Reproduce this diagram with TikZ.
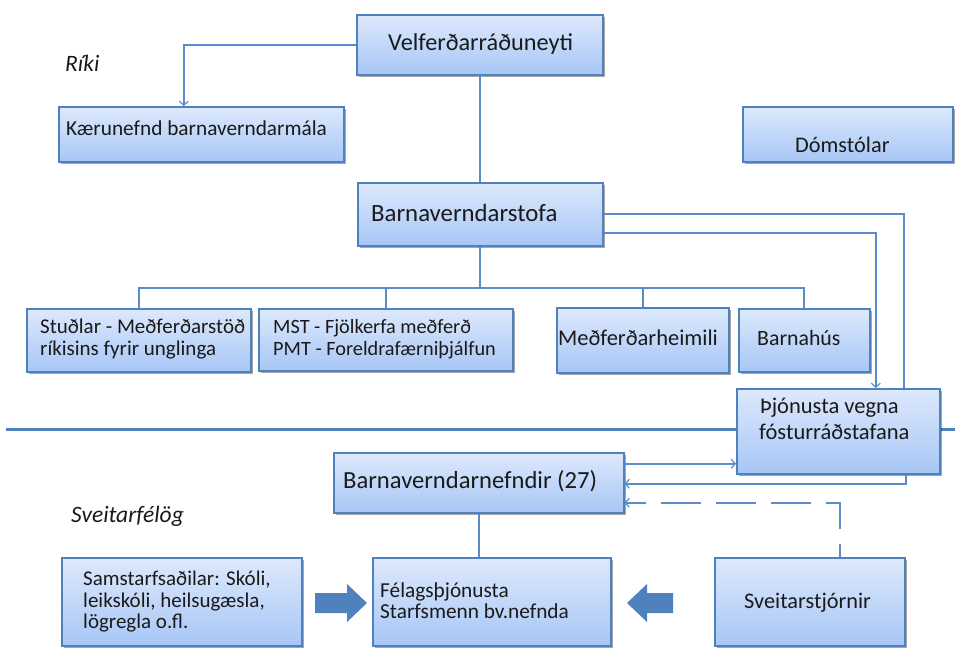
\documentclass[tikz,border=0pt]{standalone}
\usepackage{fontspec}
\setmainfont{Carlito}
\usetikzlibrary{arrows.meta,shadows,calc}
\definecolor{boxtop}{HTML}{DDE9FC}
\definecolor{boxbot}{HTML}{A7C6F6}
\definecolor{edge}{HTML}{4F81BD}
\definecolor{linec}{HTML}{5B8BC8}
\definecolor{txtc}{HTML}{1A1A1A}
\tikzset{
  box/.style={draw=edge, line width=1.5pt, rectangle, top color=boxtop, bottom color=boxbot,
    anchor=north west, inner sep=0pt,
    drop shadow={shadow xshift=1.8pt, shadow yshift=-2pt, fill=black, opacity=0.35}},
  txt/.style={anchor=base west, inner sep=0pt, text=txtc, align=left},
  big/.style={font=\fontsize{24.3}{28}\selectfont},
  mid/.style={font=\fontsize{20.5}{22}\selectfont},
  conn/.style={draw=linec, line width=1.6pt},
  arr/.style={conn, -{Straight Barb[length=4pt,width=9pt,line width=1.2pt]}},
  blockarrow/.style={fill=edge, draw=none},
  sect/.style={anchor=base west, inner sep=0pt, text=txtc, font=\fontsize{23.5}{26}\selectfont\itshape},
}
\begin{document}
\begin{tikzpicture}[x=1pt,y=-1pt]
\useasboundingbox (0,0) rectangle (955,648);
% divider
\draw[draw=edge, line width=3pt] (6,429) -- (955,429);
% boxes
\node[box, minimum width=246, minimum height=60] (velf) at (356,14) {};
\node[box, minimum width=285, minimum height=55] (kaer) at (58,106) {};
\node[box, minimum width=210, minimum height=55] (doms) at (742,106) {};
\node[box, minimum width=245, minimum height=63] (bvs) at (357,182) {};
\node[box, minimum width=224, minimum height=63] (stud) at (26,308) {};
\node[box, minimum width=254, minimum height=62] (mst) at (258,308) {};
\node[box, minimum width=172, minimum height=65] (medf) at (556,307) {};
\node[box, minimum width=131, minimum height=63] (bhus) at (738,308) {};
\node[box, minimum width=203, minimum height=85] (thjon) at (736,388) {};
\node[box, minimum width=290, minimum height=60] (bvn) at (333,452) {};
\node[box, minimum width=238, minimum height=88] (fel) at (372,557) {};
\node[box, minimum width=240, minimum height=88] (sam) at (61,557) {};
\node[box, minimum width=190, minimum height=88] (sveit) at (714,557) {};
% texts
\node[txt, big] (velf-t) at (388,50) {Velferðarráðuneyti};
\node[txt, mid, font=\fontsize{21.3}{24}\selectfont] (kaer-t) at (66,135) {Kærunefnd barnaverndarmála};
\node[txt, mid, font=\fontsize{22.3}{24}\selectfont] (doms-t) at (795,152) {Dómstólar};
\node[txt, big, font=\fontsize{24.8}{28}\selectfont] (bvs-t) at (371,221) {Barnaverndarstofa};
\node[txt, mid, font=\fontsize{21}{24}\selectfont] (stud-t1) at (40,333) {Stuðlar - Meðferðarstöð};
\node[txt, mid, font=\fontsize{21}{24}\selectfont] (stud-t2) at (40,355) {ríkisins fyrir unglinga};
\node[txt, mid, font=\fontsize{20.3}{24}\selectfont] (mst-t1) at (273,333) {MST - Fjölkerfa meðferð};
\node[txt, mid, font=\fontsize{20.3}{24}\selectfont] (mst-t2) at (273,355) {PMT - Foreldrafærniþjálfun};
\node[txt, mid, font=\fontsize{22.5}{24}\selectfont] (medf-t) at (558,345) {Meðferðarheimili};
\node[txt, mid, font=\fontsize{21.8}{24}\selectfont] (bhus-t) at (757,345) {Barnahús};
\node[txt, mid, font=\fontsize{22.5}{24}\selectfont] (thjon-t1) at (760,413) {Þjónusta vegna};
\node[txt, mid, font=\fontsize{22.5}{24}\selectfont] (thjon-t2) at (759,439) {fósturráðstafana};
\node[txt, big, font=\fontsize{24.6}{28}\selectfont] (bvn-t) at (343,488) {Barnaverndarnefndir (27)};
\node[txt, mid, font=\fontsize{21.3}{24}\selectfont] (fel-t1) at (380,597) {Félagsþjónusta};
\node[txt, mid, font=\fontsize{21.3}{24}\selectfont] (fel-t2) at (380,618) {Starfsmenn bv.nefnda};
\node[txt, mid, font=\fontsize{21}{24}\selectfont] (sam-t1) at (83,585) {Samstarfsaðilar: Skóli,};
\node[txt, mid, font=\fontsize{21}{24}\selectfont] (sam-t2) at (83,607) {leikskóli, heilsugæsla,};
\node[txt, mid, font=\fontsize{21}{24}\selectfont] (sam-t3) at (83,628) {lögregla o.fl.};
\node[txt, mid, font=\fontsize{22.3}{24}\selectfont] (sveit-t) at (744,608) {Sveitarstjórnir};
\node[sect] (riki) at (65,71) {Ríki};
\node[sect] (sveitf) at (71,522) {Sveitarfélög};
% connectors
\draw[arr] (velf.west) -| ($(kaer.north)+(-17.5,0)$);
\draw[conn] (velf.south) -- (velf.south |- bvs.north);
\coordinate (bus) at (0,288);
\draw[conn] (bvs.south) -- (bvs.south |- bus);
\draw[conn] (stud.north) |- (bus -| bhus.north) -- (bhus.north);
\draw[conn] (mst.north) -- (mst.north |- bus);
\draw[conn] (medf.north) -- (medf.north |- bus);
\draw[conn] (bvs.east) -| ($(thjon.north)+(65.5,0)$);
\draw[arr] ($(bvs.east)+(0,18.5)$) -| ($(thjon.north)+(37.5,0)$);
\coordinate (bvnup) at ($(bvn.east)+(0,-19)$);
\draw[arr] (bvnup) -- (bvnup -| thjon.west);
\draw[arr] ($(thjon.south)+(67.5,0)$) |- ($(bvn.east)+(0,1)$);
\draw[arr, dash pattern=on 40pt off 15pt, dash phase=27pt] ($(sveit.north)+(30,0)$) |- ($(bvn.east)+(0,20)$);
\draw[conn] (bvn.south) -- (bvn.south |- fel.north);
% block arrows
\path[blockarrow] (315,593) -- (347,593) -- (347,584) -- (367,603) -- (347,622) -- (347,613) -- (315,613) -- cycle;
\path[blockarrow] (673,593) -- (647,593) -- (647,584) -- (627,603) -- (647,622) -- (647,613) -- (673,613) -- cycle;
\end{tikzpicture}
\end{document}
